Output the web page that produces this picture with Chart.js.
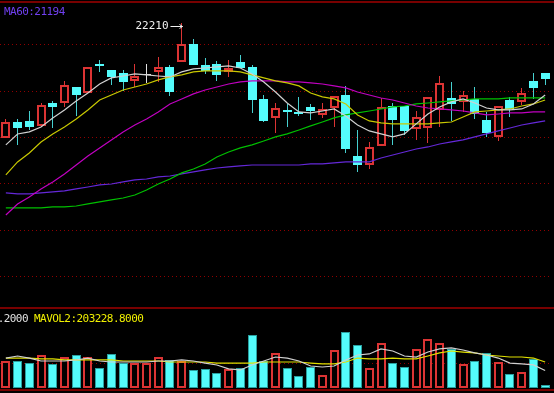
<!DOCTYPE html>
<html>
<head>
<meta charset="utf-8">
<script src="https://cdn.jsdelivr.net/npm/chart.js@4"></script>
<style>
html, body { margin: 0; padding: 0; background: #000; width: 554px; height: 393px; overflow: hidden; }
body { position: relative; font-family: "DejaVu Sans Mono", monospace; }
#mainBox { position: absolute; left: 0; top: 0; width: 554px; height: 308px; }
#volBox { position: absolute; left: 0; top: 308px; width: 554px; height: 80px; }
.rule { position: absolute; left: 0; width: 554px; height: 2px; background: #780000; }
.lbl { position: absolute; font-size: 11px; letter-spacing: -0.55px; white-space: nowrap; line-height: 12px; }
</style>
</head>
<body>
<div id="mainBox"><canvas id="main"></canvas></div>
<div id="volBox"><canvas id="vol"></canvas></div>
<div class="rule" style="top:1px"></div>
<div class="rule" style="top:307px"></div>
<div class="rule" style="top:389px"></div>
<div class="lbl" id="ma60Lbl" style="left:4px;top:6px;color:#7040f0"></div>
<div class="lbl" id="mavol1Lbl" style="right:526px;top:313px;color:#e0e0e0"></div>
<div class="lbl" id="mavol2Lbl" style="left:34px;top:313px;color:#f0f000"></div>
<script>
const opens  = [21017,21183,21194,21142,21380,21380,21546,21484,21785,21723,21692,21609,21671,21702,21754,21806,21992,21774,21785,21702,21806,21754,21422,21225,21308,21287,21339,21256,21328,21463,20831,20737,20935,21349,21349,21111,21121,21308,21432,21391,21422,21204,21028,21411,21391,21609,21692]
const highs  = [21214,21214,21297,21380,21401,21609,21546,21754,21826,21723,21723,21785,21785,21857,21774,22210,22044,21847,21816,21826,21878,21774,21463,21380,21370,21443,21370,21380,21453,21557,21100,20976,21432,21380,21349,21297,21443,21660,21598,21505,21546,21287,21349,21443,21536,21692,21692]
const lows   = [21017,20945,21100,21142,21121,21339,21246,21484,21702,21567,21505,21546,21588,21598,21453,21806,21774,21681,21609,21650,21743,21277,21183,21069,21131,21246,21204,21225,21131,20862,20665,20696,20935,20945,21049,20997,20966,21131,21194,21287,21214,21028,20986,21235,21360,21422,21567]
const closes = [21183,21121,21131,21360,21339,21567,21463,21754,21764,21650,21598,21660,21671,21754,21494,21992,21774,21712,21671,21743,21743,21411,21194,21328,21287,21266,21297,21318,21453,20903,20737,20924,21339,21204,21090,21235,21443,21588,21370,21463,21266,21069,21349,21318,21484,21536,21629]

const ma5  = [20945,21059,21080,21131,21225,21308,21401,21484,21577,21640,21660,21681,21671,21660,21650,21702,21733,21743,21754,21764,21743,21681,21598,21494,21380,21287,21277,21297,21318,21246,21152,21090,21059,21028,21059,21163,21266,21339,21391,21422,21380,21328,21308,21308,21318,21370,21463]
const ma10 = [20634,20769,20862,20976,21059,21131,21214,21308,21411,21463,21515,21546,21577,21619,21650,21671,21702,21712,21712,21712,21702,21671,21640,21609,21588,21557,21484,21443,21422,21370,21256,21194,21173,21163,21163,21163,21163,21173,21183,21235,21287,21297,21308,21318,21349,21370,21411]
const ma20 = [20219,20333,20406,20489,20561,20644,20737,20831,20914,20997,21080,21152,21214,21287,21370,21422,21474,21515,21546,21577,21598,21609,21609,21609,21598,21598,21588,21577,21557,21536,21494,21463,21432,21411,21380,21349,21328,21318,21308,21297,21277,21256,21266,21277,21277,21287,21287]
const ma30 = [20292,20292,20292,20292,20302,20302,20312,20333,20354,20375,20395,20426,20478,20540,20592,20655,20696,20748,20820,20872,20914,20945,20986,21028,21059,21100,21142,21183,21225,21256,21277,21297,21318,21339,21349,21370,21380,21391,21401,21411,21422,21422,21422,21432,21432,21432,21432]
const ma60 = [20447,20437,20437,20447,20458,20468,20489,20509,20530,20540,20561,20582,20592,20613,20623,20644,20665,20686,20706,20717,20727,20737,20737,20737,20737,20737,20748,20748,20758,20769,20769,20769,20810,20841,20872,20903,20924,20955,20976,20997,21028,21059,21090,21121,21152,21173,21194]

const volumes = [211000,211000,195000,258000,188000,242000,258000,242000,156000,266000,195000,195000,195000,242000,219000,211000,141000,149000,117000,149000,156000,414000,211000,274000,156000,94000,164000,102000,297000,438000,336000,156000,352000,195000,164000,305000,383000,352000,305000,188000,211000,274000,203000,109000,125000,227000,23000]
const mavol1 = [234000,250000,234000,211000,211000,211000,219000,234000,211000,203000,203000,203000,203000,211000,211000,219000,211000,195000,180000,149000,141000,180000,211000,242000,234000,211000,172000,164000,172000,219000,258000,266000,305000,289000,250000,242000,281000,305000,313000,297000,274000,258000,234000,195000,188000,180000,137031.2]
const mavol2 = [234000,234000,234000,227000,227000,219000,219000,219000,219000,219000,211000,211000,211000,211000,203000,203000,203000,203000,195000,195000,195000,195000,203000,203000,203000,203000,195000,188000,188000,203000,234000,227000,227000,234000,227000,227000,250000,274000,289000,281000,274000,258000,250000,242000,242000,234000,203228.8]

const priceMin = 19254
const priceMax = 22448
const priceGrid = [21982, 21494, 21017, 20540, 20053, 19576]
const volMax = 625000
const volGrid = [195000]

const days = opens.map((o, i) => String(i + 1))
const red = '#dc3434'
const cyan = '#54fcfc'
const white = '#e0e0e0'
const candleColor = opens.map((o, i) => closes[i] > o ? red : closes[i] < o ? cyan : white)
const bodyFill = opens.map((o, i) => closes[i] > o ? '#000' : candleColor[i])
const wickColor = opens.map((o, i) => closes[i] < o ? '#46d0d0' : candleColor[i])
const volUp = opens.map((o, i) => closes[i] >= o)

function maLine(label, data, color) {
    return {type: 'line', label, data, borderColor: color, borderWidth: 1.2, pointRadius: 0, tension: 0}
}

function gridAxis(min, max, ticks) {
    return {
        min, max,
        afterBuildTicks: s => { s.ticks = ticks.map(v => ({value: v})) },
        ticks: {display: false},
        grid: {color: '#900000', drawTicks: false, lineWidth: 1},
        border: {display: false, dash: [1, 3]}
    }
}

const baseOptions = (yAxis) => ({
    responsive: true,
    maintainAspectRatio: false,
    animation: false,
    events: [],
    layout: {padding: {left: 0, right: 3, top: 0, bottom: 0}},
    plugins: {legend: {display: false}, tooltip: {enabled: false}},
    scales: {x: {display: false, offset: true}, y: yAxis}
})

// keep candle edges on whole pixels so they stay sharp
const snapBars = {
    id: 'snapBars',
    beforeDatasetsDraw(chart) {
        chart.getSortedVisibleDatasetMetas().forEach(meta => {
            if (meta.type !== 'bar') return
            meta.data.forEach(el => {
                el.x = Math.round(el.width) % 2 === 1 ? Math.floor(el.x) + 0.5 : Math.round(el.x)
                el.y = Math.round(el.y)
                el.base = Math.round(el.base)
                el.inflateAmount = 0
                if (el.y === el.base) el.base = el.y + 1
            })
        })
    }
}

// high marker "22210 →"
const peakLabel = {
    id: 'peakLabel',
    afterDatasetsDraw(chart) {
        const i = highs.indexOf(Math.max(...highs))
        const x = Math.floor(chart.scales.x.getPixelForValue(i)) + 0.5
        const y = Math.round(chart.scales.y.getPixelForValue(highs[i])) + 3.5
        const ctx = chart.ctx
        ctx.save()
        ctx.fillStyle = '#f0f0f0'
        ctx.strokeStyle = '#f0f0f0'
        ctx.lineWidth = 1
        ctx.font = '11px "DejaVu Sans Mono"'
        ctx.textAlign = 'right'
        ctx.textBaseline = 'middle'
        ctx.fillText(String(highs[i]), x - 13, y)
        ctx.beginPath()
        ctx.moveTo(x - 11, y)
        ctx.lineTo(x + 1, y)
        ctx.moveTo(x - 2, y - 2)
        ctx.lineTo(x + 1, y)
        ctx.lineTo(x - 2, y + 2)
        ctx.stroke()
        ctx.restore()
    }
}

new Chart(document.getElementById('main'), {
    type: 'bar',
    data: {
        labels: days,
        datasets: [
            maLine('MA5', ma5, '#d0d0d0'),
            maLine('MA10', ma10, '#c8c800'),
            maLine('MA20', ma20, '#c000c0'),
            maLine('MA30', ma30, '#00c000'),
            maLine('MA60', ma60, '#6428d8'),
            {
                label: 'body', data: opens.map((o, i) => [o, closes[i]]),
                backgroundColor: bodyFill, borderColor: candleColor,
                borderWidth: opens.map((o, i) => closes[i] > o ? 2 : 1),
                borderSkipped: false, barThickness: 9, minBarLength: 1, grouped: false, inflateAmount: 0
            },
            {
                label: 'wick', data: lows.map((l, i) => [l, highs[i]]),
                backgroundColor: wickColor, barThickness: 1, grouped: false, inflateAmount: 0
            }
        ]
    },
    options: baseOptions(gridAxis(priceMin, priceMax, priceGrid)),
    plugins: [snapBars, peakLabel]
})

new Chart(document.getElementById('vol'), {
    type: 'bar',
    data: {
        labels: days,
        datasets: [
            maLine('MAVOL1', mavol1, '#d0d0d0'),
            maLine('MAVOL2', mavol2, '#e0e000'),
            {
                label: 'VOL', data: volumes,
                backgroundColor: volUp.map(u => u ? '#000' : cyan),
                borderColor: volUp.map(u => u ? red : '#2aa0a0'),
                borderWidth: volUp.map(u => u ? 2 : 1),
                borderSkipped: false, barThickness: 9, grouped: false, inflateAmount: 0
            }
        ]
    },
    options: baseOptions(gridAxis(0, volMax, volGrid)),
    plugins: [snapBars]
})

document.getElementById('ma60Lbl').textContent = 'MA60:' + ma60[ma60.length - 1]
document.getElementById('mavol1Lbl').textContent = 'MAVOL1:' + mavol1[mavol1.length - 1].toFixed(4)
document.getElementById('mavol2Lbl').textContent = 'MAVOL2:' + mavol2[mavol2.length - 1].toFixed(4)
</script>
</body>
</html>
